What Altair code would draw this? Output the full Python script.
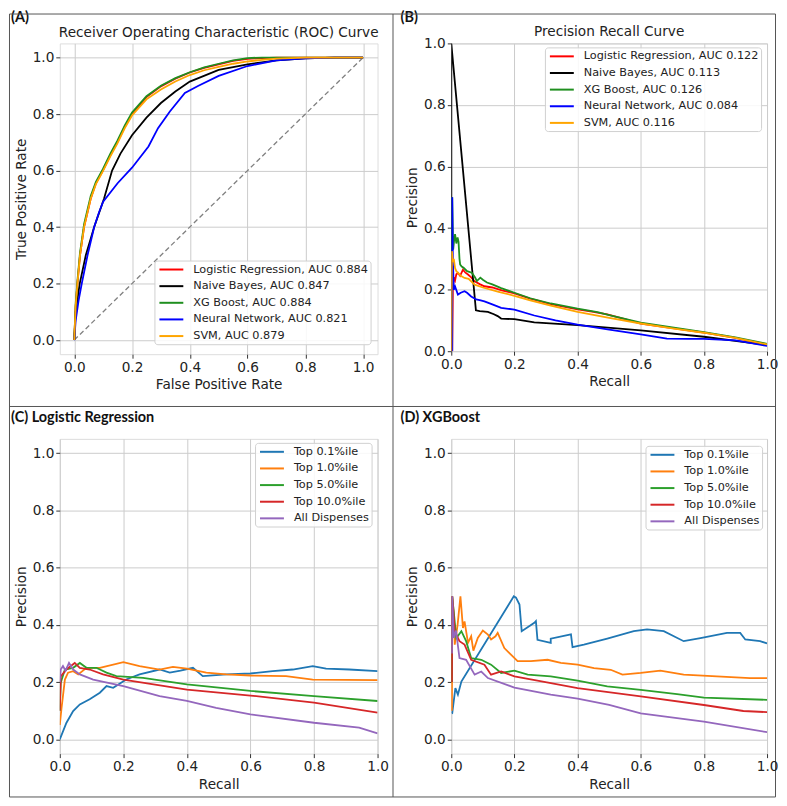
import altair as alt
import pandas as pd

FONT = "DejaVu Sans"
TXT = "#222222"
TICKS = [0, 0.2, 0.4, 0.6, 0.8, 1.0]
FS = 13.7

# ---------------- Panel A: ROC ----------------
roc_names = ["Logistic Regression, AUC 0.884", "Naive Bayes, AUC 0.847",
             "XG Boost, AUC 0.884", "Neural Network, AUC 0.821", "SVM, AUC 0.879"]
roc_colors = ["#ff0000", "#000000", "#1f8f1f", "#0000ff", "#ffa500"]

roc_common_x = [0, 0.005, 0.011, 0.02, 0.034, 0.057, 0.075, 0.099, 0.125, 0.149, 0.175, 0.2,
                0.25, 0.3, 0.35, 0.4, 0.45, 0.5, 0.55, 0.6, 0.65, 0.7, 0.8, 0.9, 1.0]
roc_lr_y = [0, 0.12, 0.2, 0.3, 0.4, 0.5, 0.555, 0.6, 0.655, 0.7, 0.755, 0.8, 0.86, 0.898,
            0.925, 0.947, 0.963, 0.976, 0.988, 0.995, 0.998, 1.0, 1.0, 1.0, 1.0]
roc_xgb_y = [0, 0.13, 0.21, 0.31, 0.41, 0.51, 0.56, 0.605, 0.66, 0.705, 0.76, 0.805, 0.863, 0.9,
             0.927, 0.948, 0.965, 0.978, 0.99, 0.998, 1.0, 1.0, 1.0, 1.0, 1.0]
roc_svm_y = [0, 0.12, 0.2, 0.3, 0.4, 0.5, 0.552, 0.597, 0.65, 0.695, 0.75, 0.795, 0.852, 0.887,
             0.915, 0.938, 0.955, 0.967, 0.978, 0.986, 0.992, 0.996, 1.0, 1.0, 1.0]
roc_nb_x = [0, 0.005, 0.019, 0.04, 0.069, 0.103, 0.131, 0.16, 0.2, 0.25, 0.3, 0.35, 0.4, 0.5,
            0.6, 0.7, 0.8, 0.9, 1.0]
roc_nb_y = [0, 0.1, 0.2, 0.3, 0.4, 0.5, 0.6, 0.66, 0.725, 0.787, 0.839, 0.88, 0.915, 0.956,
            0.976, 0.99, 0.997, 1.0, 1.0]
roc_nn_x = [0, 0.005, 0.015, 0.026, 0.046, 0.069, 0.085, 0.1, 0.15, 0.2, 0.257, 0.29, 0.331,
            0.383, 0.43, 0.5, 0.6, 0.7, 0.8, 0.9, 1.0]
roc_nn_y = [0, 0.07, 0.14, 0.2, 0.3, 0.4, 0.45, 0.49, 0.555, 0.61, 0.685, 0.75, 0.809, 0.875,
            0.9, 0.935, 0.97, 0.99, 0.997, 1.0, 1.0]
chance_x = [0, 1]
chance_y = [0, 1]

# ---------------- Panel B: PR ----------------
pr_names = ["Logistic Regression, AUC 0.122", "Naive Bayes, AUC 0.113", "XG Boost, AUC 0.126",
            "Neural Network, AUC 0.084", "SVM, AUC 0.116"]
pr_lr_x = [0.003, 0.005, 0.008, 0.012, 0.016, 0.021, 0.028, 0.037, 0.045, 0.053, 0.063, 0.074,
           0.09, 0.105, 0.13, 0.16, 0.2, 0.25, 0.315, 0.4, 0.45, 0.494, 0.55, 0.6, 0.7, 0.8, 0.9, 1.0]
pr_lr_y = [0.0, 0.2, 0.24, 0.23, 0.25, 0.254, 0.245, 0.265, 0.255, 0.249, 0.24, 0.227, 0.218,
           0.211, 0.207, 0.198, 0.188, 0.171, 0.153, 0.136, 0.128, 0.12, 0.104, 0.09, 0.075,
           0.06, 0.043, 0.02]
pr_nb_x = [0, 0, 0.078, 0.09, 0.116, 0.135, 0.147, 0.158, 0.2, 0.263, 0.4, 0.6, 0.8, 1.0]
pr_nb_y = [0, 1.0, 0.133, 0.13, 0.128, 0.12, 0.114, 0.106, 0.104, 0.094, 0.085, 0.068, 0.047, 0.02]
pr_xgb_x = [0.002, 0.003, 0.006, 0.009, 0.012, 0.016, 0.02, 0.023, 0.026, 0.028, 0.033, 0.039,
            0.05, 0.065, 0.075, 0.081, 0.092, 0.1, 0.113, 0.13, 0.158, 0.2, 0.25, 0.315, 0.4,
            0.463, 0.5, 0.6, 0.7, 0.8, 0.9, 1.0]
pr_xgb_y = [0.3, 0.5, 0.33, 0.36, 0.38, 0.35, 0.37, 0.355, 0.3, 0.282, 0.275, 0.271, 0.26, 0.255,
            0.24, 0.228, 0.239, 0.232, 0.223, 0.217, 0.205, 0.19, 0.172, 0.155, 0.138, 0.127,
            0.117, 0.093, 0.077, 0.062, 0.045, 0.024]
pr_nn_x = [0.003, 0.003, 0.005, 0.008, 0.012, 0.021, 0.03, 0.042, 0.05, 0.063, 0.079, 0.09, 0.105,
           0.13, 0.158, 0.2, 0.263, 0.33, 0.4, 0.5, 0.6, 0.683, 0.75, 0.8, 0.9, 1.0]
pr_nn_y = [0.0, 0.5, 0.3, 0.2, 0.21, 0.184, 0.19, 0.195, 0.19, 0.178, 0.168, 0.166, 0.162, 0.152,
           0.141, 0.135, 0.116, 0.1, 0.086, 0.07, 0.055, 0.041, 0.04, 0.04, 0.035, 0.017]
pr_svm_x = [0, 0.002, 0.005, 0.008, 0.012, 0.016, 0.021, 0.03, 0.042, 0.055, 0.074, 0.1, 0.15,
            0.2, 0.25, 0.315, 0.4, 0.5, 0.6, 0.7, 0.8, 0.9, 1.0]
pr_svm_y = [0.0, 0.325, 0.29, 0.3, 0.27, 0.26, 0.255, 0.245, 0.238, 0.235, 0.216, 0.207, 0.193,
            0.18, 0.165, 0.148, 0.128, 0.108, 0.09, 0.074, 0.06, 0.043, 0.022]

# ---------------- Panels C / D: percentile PR ----------------
pct_names = ["Top 0.1%ile", "Top 1.0%ile", "Top 5.0%ile", "Top 10.0%ile", "All Dispenses"]
pct_colors = ["#1f77b4", "#ff7f0e", "#2ca02c", "#d62728", "#9467bd"]

c_top01_x = [0, 0.021, 0.042, 0.063, 0.094, 0.126, 0.147, 0.168, 0.209, 0.251, 0.314, 0.346,
             0.38, 0.419, 0.45, 0.524, 0.6, 0.67, 0.733, 0.796, 0.838, 0.911, 1.0]
c_top01_y = [0, 0.058, 0.099, 0.122, 0.14, 0.163, 0.186, 0.18, 0.209, 0.227, 0.244, 0.233,
             0.24, 0.25, 0.221, 0.227, 0.23, 0.238, 0.244, 0.256, 0.247, 0.244, 0.238]
c_top1_x = [0, 0.005, 0.016, 0.026, 0.042, 0.058, 0.084, 0.126, 0.2, 0.251, 0.314, 0.356, 0.4,
            0.461, 0.524, 0.6, 0.712, 0.796, 1.0]
c_top1_y = [0.05, 0.105, 0.209, 0.233, 0.238, 0.227, 0.25, 0.25, 0.27, 0.256, 0.244, 0.253,
            0.247, 0.233, 0.227, 0.223, 0.221, 0.209, 0.207]
c_top5_x = [0, 0.003, 0.016, 0.042, 0.063, 0.084, 0.115, 0.147, 0.178, 0.262, 0.4, 0.6, 0.8, 1.0]
c_top5_y = [0.1, 0.198, 0.244, 0.25, 0.267, 0.25, 0.25, 0.233, 0.221, 0.215, 0.192, 0.169,
            0.151, 0.134]
c_top10_x = [0, 0.003, 0.021, 0.047, 0.063, 0.094, 0.136, 0.2, 0.4, 0.6, 0.8, 1.0]
c_top10_y = [0.1, 0.22, 0.244, 0.267, 0.25, 0.244, 0.227, 0.209, 0.174, 0.153, 0.128, 0.093]
c_all_x = [0, 0.003, 0.01, 0.018, 0.029, 0.042, 0.063, 0.105, 0.2, 0.314, 0.4, 0.492, 0.6, 0.8,
           0.942, 1.0]
c_all_y = [0.2, 0.244, 0.256, 0.24, 0.267, 0.244, 0.227, 0.209, 0.186, 0.151, 0.134, 0.11,
           0.087, 0.058, 0.041, 0.021]

d_top01_x = [0.002, 0.003, 0.013, 0.021, 0.032, 0.198, 0.205, 0.216, 0.223, 0.263, 0.268, 0.273,
             0.315, 0.315, 0.379, 0.384, 0.42, 0.494, 0.578, 0.62, 0.673, 0.736, 0.789, 0.873,
             0.915, 0.931, 0.978, 1.0]
d_top01_y = [0.09, 0.091, 0.179, 0.156, 0.202, 0.5, 0.495, 0.471, 0.378, 0.407, 0.413, 0.348,
             0.337, 0.352, 0.367, 0.322, 0.331, 0.352, 0.378, 0.384, 0.378, 0.343, 0.354, 0.372,
             0.372, 0.349, 0.343, 0.335]
d_top1_x = [0.002, 0.003, 0.007, 0.011, 0.02, 0.029, 0.037, 0.042, 0.053, 0.063, 0.07, 0.084,
            0.1, 0.116, 0.126, 0.14, 0.147, 0.168, 0.189, 0.21, 0.252, 0.305, 0.347, 0.4, 0.452,
            0.505, 0.542, 0.6, 0.662, 0.736, 0.841, 0.946, 1.0]
d_top1_y = [0.1, 0.5, 0.45, 0.331, 0.4, 0.5, 0.389, 0.412, 0.337, 0.36, 0.31, 0.354, 0.38, 0.366,
            0.349, 0.36, 0.372, 0.319, 0.296, 0.273, 0.273, 0.278, 0.267, 0.261, 0.249, 0.243,
            0.226, 0.232, 0.24, 0.226, 0.22, 0.214, 0.214]
d_top5_x = [0.002, 0.003, 0.016, 0.032, 0.047, 0.063, 0.095, 0.126, 0.158, 0.2, 0.242, 0.315,
            0.4, 0.494, 0.6, 0.715, 0.8, 1.0]
d_top5_y = [0.2, 0.5, 0.354, 0.378, 0.343, 0.284, 0.278, 0.261, 0.232, 0.24, 0.226, 0.22, 0.205,
            0.185, 0.173, 0.158, 0.146, 0.138]
d_top10_x = [0.002, 0.003, 0.011, 0.026, 0.042, 0.063, 0.105, 0.126, 0.158, 0.2, 0.273, 0.4,
             0.6, 0.8, 0.925, 1.0]
d_top10_y = [0.2, 0.5, 0.378, 0.343, 0.331, 0.278, 0.261, 0.226, 0.237, 0.22, 0.205, 0.179,
             0.15, 0.12, 0.099, 0.095]
d_all_x = [0.002, 0.003, 0.008, 0.015, 0.026, 0.047, 0.074, 0.095, 0.116, 0.2, 0.315, 0.4, 0.5,
           0.6, 0.8, 1.0]
d_all_y = [0.3, 0.5, 0.354, 0.38, 0.284, 0.278, 0.226, 0.237, 0.214, 0.181, 0.156, 0.142, 0.12,
           0.091, 0.062, 0.025]


def series_frame(names, xs_list, ys_list):
    rows = []
    for name, xs, ys in zip(names, xs_list, ys_list):
        for i, (x, y) in enumerate(zip(xs, ys)):
            rows.append({"series": name, "x": x, "y": y, "i": i})
    return pd.DataFrame(rows)


def make_axis(title):
    return alt.Axis(title=title, values=TICKS, format=".1f", grid=True, gridColor="#cccccc",
                    gridWidth=1, domain=False, ticks=True, tickColor="#333333", tickSize=4,
                    tickWidth=1, labelFont=FONT, labelFontSize=FS, labelColor=TXT,
                    labelPadding=2, labelFlush=False, labelOverlap=False,
                    titleFont=FONT, titleFontSize=FS, titleColor=TXT,
                    titleFontWeight="normal", titlePadding=4)


def make_legend(lx, ly):
    return alt.Legend(title=None, orient="none", legendX=lx, legendY=ly,
                      symbolType="M-0.667,0H3.333", symbolSize=144, symbolStrokeWidth=2,
                      labelFont=FONT, labelFontSize=11.3, labelColor=TXT, labelOffset=23,
                      labelLimit=0, rowPadding=3.7, padding=2, cornerRadius=3,
                      strokeColor="#d0d0d0", fillColor="rgba(255,255,255,0.85)")


def label_text(text, px, py):
    return alt.Chart(pd.DataFrame({"t": [text]})).mark_text(
        font="Lato", fontSize=14.5, fontWeight="bold", color="#111111", align="left",
        baseline="middle").encode(x=alt.value(px), y=alt.value(py), text="t:N")


def title_text(text, px, py):
    return alt.Chart(pd.DataFrame({"t": [text]})).mark_text(
        font=FONT, fontSize=FS, color=TXT, align="center",
        baseline="middle").encode(x=alt.value(px), y=alt.value(py), text="t:N")


def rule(x1, y1, x2, y2):
    return alt.Chart(pd.DataFrame({"d": [0]})).mark_rule(color="#555555", strokeWidth=1).encode(
        x=alt.value(x1), y=alt.value(y1), x2=alt.value(x2), y2=alt.value(y2))


def panel(df, names, colors, xdom, ydom, xtitle, ytitle, legend_pos):
    X = alt.X("x:Q", scale=alt.Scale(domain=xdom, nice=False, zero=False), axis=make_axis(xtitle))
    Y = alt.Y("y:Q", scale=alt.Scale(domain=ydom, nice=False, zero=False), axis=make_axis(ytitle))
    lines = alt.Chart(df).mark_line(strokeWidth=1.8, clip=True).encode(
        x=X, y=Y,
        color=alt.Color("series:N", scale=alt.Scale(domain=names, range=colors),
                        legend=make_legend(*legend_pos)),
        order=alt.Order("i:Q"),
    )
    return lines, X, Y


# Panel A
dfA = series_frame(roc_names,
                   [roc_common_x, roc_nb_x, roc_common_x, roc_nn_x, roc_common_x],
                   [roc_lr_y, roc_nb_y, roc_xgb_y, roc_nn_y, roc_svm_y])
linesA, XA, YA = panel(dfA, roc_names, roc_colors, [-0.05, 1.05], [-0.05, 1.05],
                       "False Positive Rate", "True Positive Rate", (95, 218))
diag = alt.Chart(pd.DataFrame({"x": chance_x, "y": chance_y})).mark_line(
    color="#808080", strokeDash=[5, 3], strokeWidth=1.3).encode(x=XA, y=YA)
chartA = alt.layer(
    diag, linesA,
    label_text("(A)", -49, -25.5),
    title_text("Receiver Operating Characteristic (ROC) Curve", 159.5, -10),
).properties(width=319, height=312)

# Panel B
dfB = series_frame(pr_names,
                   [pr_lr_x, pr_nb_x, pr_xgb_x, pr_nn_x, pr_svm_x],
                   [pr_lr_y, pr_nb_y, pr_xgb_y, pr_nn_y, pr_svm_y])
linesB, XB, YB = panel(dfB, pr_names, roc_colors, [0, 1], [0, 1], "Recall", "Precision", (94, 4))
chartB = alt.layer(
    linesB,
    label_text("(B)", -51, -25.5),
    title_text("Precision Recall Curve", 158.5, -11),
).properties(width=317, height=309)

# Panel C (also carries the panel frame lines, page-relative to this plot's origin)
dfC = series_frame(pct_names, [c_top01_x, c_top1_x, c_top5_x, c_top10_x, c_all_x],
                   [c_top01_y, c_top1_y, c_top5_y, c_top10_y, c_all_y])
linesC, XC, YC = panel(dfC, pct_names, pct_colors, [0, 1], [-0.05, 1.05], "Recall", "Precision",
                       (196, 4))
frame = [
    rule(-50.5, -426.5, -50.5, 359.5),
    rule(-50.5, -426.5, 718.5, -426.5),
    rule(718.5, -426.5, 718.5, 359.5),
    rule(-50.5, 359.5, 718.5, 359.5),
    rule(334.5, -426.5, 334.5, 359.5),
    rule(-50.5, -32.5, 718.5, -32.5),
]
chartC = alt.layer(linesC, label_text("(C) Logistic Regression", -49, -21), *frame).properties(
    width=319, height=316)

# Panel D
dfD = series_frame(pct_names, [d_top01_x, d_top1_x, d_top5_x, d_top10_x, d_all_x],
                   [d_top01_y, d_top1_y, d_top5_y, d_top10_y, d_all_y])
linesD, XD, YD = panel(dfD, pct_names, pct_colors, [0, 1], [-0.05, 1.05], "Recall", "Precision",
                       (195, 7))
chartD = alt.layer(linesD, label_text("(D) XGBoost", -51, -21)).properties(
    width=317, height=316)

chart = alt.concat(
    chartA, chartB, chartC, chartD, columns=2, bounds="flush",
    spacing={"row": 85, "column": 74},
).resolve_scale(color="independent").properties(padding=0).configure_view(
    stroke="#333333", strokeWidth=1).configure(font=FONT)

chart.save("out.html", embed_options={"renderer": "svg", "actions": False})
